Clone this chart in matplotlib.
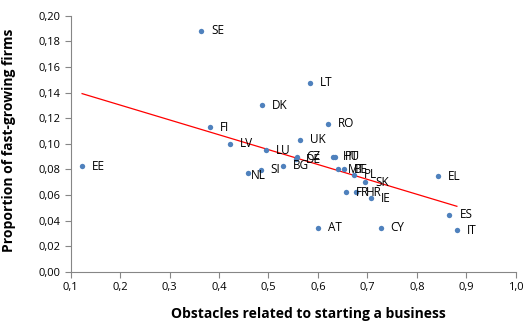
import matplotlib
matplotlib.use("Agg")
import matplotlib.pyplot as plt
import numpy as np
from matplotlib.ticker import FuncFormatter

countries = ["SE", "DK", "FI", "LV", "LU", "LT", "RO", "UK", "CZ", "DE", "HU", "PT",
             "BG", "MT", "BE", "PL", "SK", "FR", "HR", "IE", "EL", "ES", "IT", "AT",
             "CY", "EE", "NL", "SI"]
obstacles = [0.364, 0.487, 0.381, 0.422, 0.494, 0.583, 0.620, 0.563, 0.557, 0.556, 0.630, 0.635,
             0.529, 0.641, 0.653, 0.672, 0.695, 0.657, 0.677, 0.707, 0.842, 0.866, 0.881, 0.600,
             0.727, 0.123, 0.459, 0.484]
fast_growing = [0.1883, 0.130, 0.1131, 0.1001, 0.095, 0.1477, 0.1157, 0.1032, 0.090, 0.088, 0.090, 0.090,
                0.083, 0.080, 0.080, 0.0757, 0.070, 0.0622, 0.0622, 0.0575, 0.0747, 0.0447, 0.0325, 0.0346,
                0.0346, 0.0827, 0.0773, 0.0798]

x_ticks = [0.1, 0.2, 0.3, 0.4, 0.5, 0.6, 0.7, 0.8, 0.9, 1.0]
y_ticks = [0.00, 0.02, 0.04, 0.06, 0.08, 0.10, 0.12, 0.14, 0.16, 0.18, 0.20]

plt.rcParams['font.family'] = ['Open Sans', 'DejaVu Sans']

fig = plt.figure(figsize=(5.25, 3.22), dpi=100)
ax = fig.add_axes([0.1347, 0.1553, 0.9823 - 0.1347, 0.9512 - 0.1553])

x = np.array(obstacles)
y = np.array(fast_growing)
ax.scatter(x, y, s=15, color="#4F81BD", zorder=3, linewidths=0)

slope, intercept = np.polyfit(x, y, 1)
xl = np.array([x.min(), x.max()])
ax.plot(xl, slope * xl + intercept, color="#FF0000", linewidth=0.9, zorder=2)

# label offsets (points)
offsets = {c: (7.2, 0) for c in countries}
offsets["NL"] = (2, -2)
for c, xi, yi in zip(countries, x, y):
    dx, dy = offsets[c]
    ax.annotate(c, (xi, yi), xytext=(dx, dy), textcoords="offset points",
                ha="left", va="center", fontsize=8.5, color="#000000")

ax.set_xlim(0.1, 1.0)
ax.set_ylim(0.0, 0.20)
ax.set_xticks(x_ticks)
ax.set_yticks(y_ticks)
ax.xaxis.set_major_formatter(FuncFormatter(lambda v, p: f"{v:.1f}".replace(".", ",")))
ax.yaxis.set_major_formatter(FuncFormatter(lambda v, p: f"{v:.2f}".replace(".", ",")))
ax.tick_params(axis="both", labelsize=8, colors="#000000", length=4, width=0.8, direction="out")
ax.tick_params(axis="both", color="#868686")

for s in ["top", "right"]:
    ax.spines[s].set_visible(False)
for s in ["left", "bottom"]:
    ax.spines[s].set_color("#868686")
    ax.spines[s].set_linewidth(0.8)

ax.set_xlabel("Obstacles related to starting a business", fontsize=10, fontweight="bold")
ax.xaxis.set_label_coords(0.534, -0.135)
ax.set_ylabel("Proportion of fast-growing firms", fontsize=10, fontweight="bold")
ax.yaxis.set_label_coords(-0.122, 0.515)

fig.savefig("out.png", dpi=100)
